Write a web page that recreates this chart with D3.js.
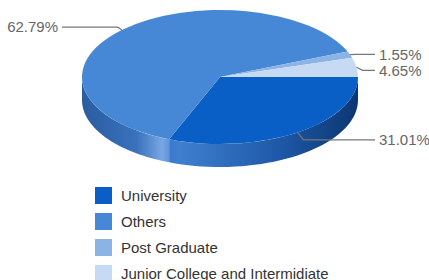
<!DOCTYPE html>
<html>
<head>
<meta charset="utf-8">
<script src="https://cdn.jsdelivr.net/npm/d3@7"></script>
<style>
  body { margin: 0; background: #fff; }
  svg { display: block; font-family: "Liberation Sans", Arial, sans-serif; }
</style>
</head>
<body>
<div id="chart"></div>
<script>
// données
const categories = ["University", "Others", "Post Graduate", "Junior College and Intermidiate"];
const values = [31.01, 62.79, 1.55, 4.65];
const colors = ["#0a5fc6", "#4788d6", "#8cb3e6", "#c6daf3"];
// dégradés des côtés (gauche -> droite)
const sideStops = [
  [["0%", "#1b4f98"], ["35%", "#3f7fcf"], ["70%", "#1f5aa9"], ["100%", "#0c3672"]],
  [["0%", "#2a5c9f"], ["20%", "#3a72bd"], ["29%", "#78a7e2"], ["32%", "#5b92d8"], ["100%", "#3a72bd"]],
  [["0%", "#6f98cc"], ["100%", "#6f98cc"]],
  [["0%", "#a4bedf"], ["100%", "#a4bedf"]]
];

const W = 429, H = 280;
const cx = 220, cy = 77, rx = 138, ry = 67, depth = 23;

const svg = d3.select("#chart").append("svg")
  .attr("width", W).attr("height", H);

const defs = svg.append("defs");
sideStops.forEach((stops, i) => {
  const g = defs.append("linearGradient")
    .attr("id", "side" + i)
    .attr("gradientUnits", "userSpaceOnUse")
    .attr("x1", cx - rx).attr("x2", cx + rx).attr("y1", 0).attr("y2", 0);
  stops.forEach(s => g.append("stop").attr("offset", s[0]).attr("stop-color", s[1]));
});

// angles : d3.pie part de midi, on commence à 3h (sens horaire)
const pie = d3.pie().sort(null).startAngle(Math.PI / 2).endAngle(Math.PI / 2 + 2 * Math.PI);
const arcs = pie(values).map((d, i) => ({
  i, value: d.value,
  t0: d.startAngle - Math.PI / 2,
  t1: d.endAngle - Math.PI / 2
}));

const px = (t, k = 1) => cx + rx * k * Math.cos(t);
const py = (t, k = 1) => cy + ry * k * Math.sin(t);

// côtés (uniquement la moitié avant : 0..PI)
const sides = svg.append("g");
arcs.forEach(a => {
  const s = Math.max(a.t0, 0), e = Math.min(a.t1, Math.PI);
  if (e <= s) return;
  const p = d3.path();
  p.moveTo(px(s), py(s));
  // arc supérieur puis inférieur
  const n = 40;
  for (let k = 1; k <= n; k++) { const t = s + (e - s) * k / n; p.lineTo(px(t), py(t)); }
  for (let k = n; k >= 0; k--) { const t = s + (e - s) * k / n; p.lineTo(px(t), py(t) + depth); }
  p.closePath();
  sides.append("path").attr("d", p.toString()).attr("fill", `url(#side${a.i})`);
});

// faces supérieures
const tops = svg.append("g");
arcs.forEach(a => {
  const large = (a.t1 - a.t0) > Math.PI ? 1 : 0;
  const d = `M${cx},${cy}L${px(a.t0)},${py(a.t0)}A${rx},${ry} 0 ${large} 1 ${px(a.t1)},${py(a.t1)}Z`;
  tops.append("path").attr("d", d).attr("fill", colors[a.i]);
});

// étiquettes
const labels = arcs.map(a => {
  const t = (a.t0 + a.t1) / 2;
  const right = Math.cos(t) >= 0;
  return { a, t, right, ax: px(t), ay: py(t), y: py(t) + ry * 0.1 * Math.sin(t) + 2 };
});
// éviter les chevauchements à droite
const rightLabels = labels.filter(l => l.right).sort((p, q) => p.y - q.y);
for (let k = 1; k < rightLabels.length; k++) {
  if (rightLabels[k].y - rightLabels[k - 1].y < 16) rightLabels[k].y = rightLabels[k - 1].y + 16;
}

const lab = svg.append("g");
labels.forEach(l => {
  const xe = l.right ? cx + rx + 17 : cx - rx - 20;
  const xk = l.right ? l.ax + 6 : l.ax - 4;
  lab.append("path")
    .attr("d", `M${l.ax},${l.ay}L${xk},${l.y}L${xe},${l.y}`)
    .attr("fill", "none").attr("stroke", "#777").attr("stroke-width", 1.2);
  lab.append("text")
    .attr("x", l.right ? xe + 4 : xe - 4)
    .attr("y", l.y)
    .attr("dy", "0.35em")
    .attr("text-anchor", l.right ? "start" : "end")
    .attr("font-size", 15)
    .attr("fill", "#666")
    .text(d3.format(".2f")(l.a.value) + "%");
});

// légende
const legendY = d3.scaleBand().domain(categories).range([187, 291]).paddingInner(0);
const legend = svg.append("g");
categories.forEach((c, i) => {
  const g = legend.append("g").attr("transform", `translate(95,${legendY(c)})`);
  g.append("rect").attr("width", 17).attr("height", 17).attr("fill", colors[i]);
  g.append("text").attr("x", 26).attr("y", 8.5).attr("dy", "0.35em")
    .attr("font-size", 15).attr("fill", "#333").text(c);
});
</script>
</body>
</html>
